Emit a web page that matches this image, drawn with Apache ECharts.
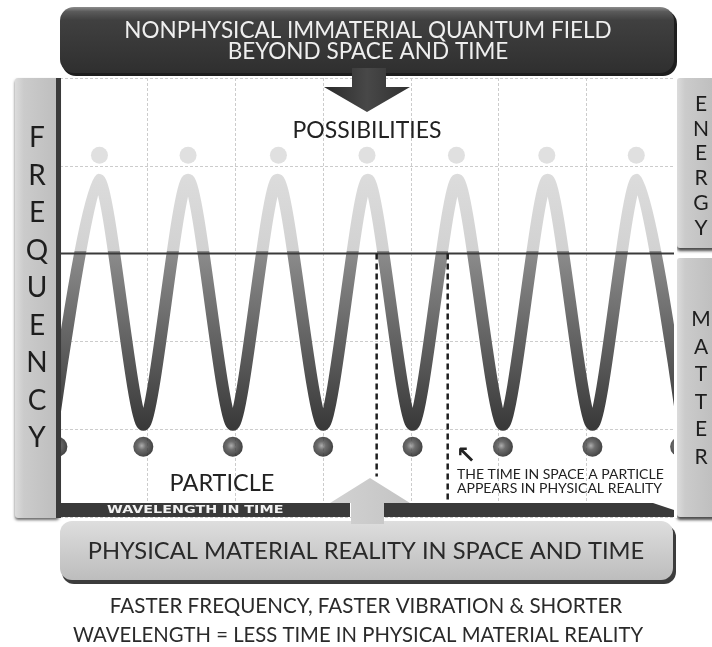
<!DOCTYPE html>
<html>
<head>
<meta charset="utf-8">
<script src="https://cdn.jsdelivr.net/npm/echarts@6/dist/echarts.min.js"></script>
<style>
html,body{margin:0;padding:0;background:#fff;}
#chart{width:712px;height:647px;}
</style>
</head>
<body>
<div id="chart"></div>
<script>
// ---- data (x: wavelength-in-time units, y: frequency units) ----
const waveX = [-0.08, 0.44, 0.95, 1.46, 1.97, 2.48, 3.00, 3.51, 4.02, 4.53, 5.05, 5.56, 6.07, 6.58, 7.10];
const waveY = [1.05, 3.84, 1.05, 3.84, 1.05, 3.84, 1.05, 3.84, 1.05, 3.84, 1.05, 3.84, 1.05, 3.84, 1.05];
const possibilityX = [0.45, 1.46, 2.49, 3.50, 4.52, 5.55, 6.57];
const possibilityY = [4.12, 4.12, 4.12, 4.12, 4.12, 4.12, 4.12];
const particleX = [-0.03, 0.95, 1.97, 3.00, 4.02, 5.05, 6.07, 7.07];
const particleY = [0.80, 0.80, 0.80, 0.80, 0.80, 0.80, 0.80, 0.80];
const markerX = [3.61, 4.42];
const markerTop = [3.0, 3.0];
const markerBottom = [0.46, 0.19];
const thresholdY = [3.0];
const xRange = [0, 7];
const yRange = [0, 5];

const titleLines = ['NONPHYSICAL IMMATERIAL QUANTUM FIELD', 'BEYOND SPACE AND TIME'];
const bottomBanner = 'PHYSICAL MATERIAL REALITY IN SPACE AND TIME';
const captionLines = ['FASTER FREQUENCY, FASTER VIBRATION & SHORTER', 'WAVELENGTH = LESS TIME IN PHYSICAL MATERIAL REALITY'];
const leftLabel = 'FREQUENCY';
const rightTopLabel = 'ENERGY';
const rightBottomLabel = 'MATTER';
const upperLabel = 'POSSIBILITIES';
const lowerLabel = 'PARTICLE';
const axisLabelText = 'WAVELENGTH IN TIME';
const noteLines = ['THE TIME IN SPACE A PARTICLE', 'APPEARS IN PHYSICAL REALITY'];

const FONT = 'Lato, "Open Sans", sans-serif';
const chart = echarts.init(document.getElementById('chart'), null, {renderer: 'canvas'});

const series = [];
series.push({
  type: 'line', name: 'wave', smooth: 0.25, symbol: 'none', z: 3,
  data: waveX.map((x, i) => [x, waveY[i]]),
  lineStyle: {
    width: 12, cap: 'round', join: 'round',
    color: {type: 'linear', x: 0, y: 0, x2: 0, y2: 1, colorStops: [
      {offset: 0, color: '#dcdcdc'}, {offset: 0.299, color: '#d2d2d2'},
      {offset: 0.301, color: '#8c8c8c'}, {offset: 1, color: '#383838'}]}
  }
});
series.push({
  type: 'line', name: 'threshold', symbol: 'none', z: 4,
  data: [[xRange[0], thresholdY[0]], [xRange[1], thresholdY[0]]],
  lineStyle: {color: '#3a3a3a', width: 2}
});
markerX.forEach((x, i) => {
  series.push({
    type: 'line', symbol: 'none', z: 4,
    data: [[x, markerTop[i]], [x, markerBottom[i]]],
    lineStyle: {color: '#1e1e1e', width: 2.5, type: [6, 4]}
  });
});
series.push({
  type: 'scatter', name: 'possibilities', symbolSize: 17, z: 3,
  data: possibilityX.map((x, i) => [x, possibilityY[i]]),
  itemStyle: {color: '#d8d8d8'}
});
series.push({
  type: 'scatter', name: 'particles', symbolSize: 20, z: 5, clip: false,
  data: particleX.map((x, i) => [x, particleY[i]]),
  itemStyle: {color: {type: 'radial', x: 0.42, y: 0.45, r: 0.6, colorStops: [
    {offset: 0, color: '#9a9a9a'}, {offset: 0.35, color: '#4a4a4a'}, {offset: 1, color: '#101010'}]}}
});

function txt(x, y, text, size, fill, extra) {
  return Object.assign({type: 'text', x: x, y: y, z: 60,
    style: Object.assign({text: text, fontSize: size, fontFamily: FONT, fill: fill,
      align: 'center', verticalAlign: 'middle'}, extra && extra.style || {})}, extra && extra.el || {});
}
const grayPanel = {type: 'linear', x: 0, y: 0, x2: 1, y2: 0, colorStops: [
  {offset: 0, color: '#dcdcdc'}, {offset: 0.2, color: '#cbcbcb'}, {offset: 1, color: '#bdbdbd'}]};

const graphic = [
  // top banner
  {type: 'rect', z: 40, shape: {x: 62, y: 10, width: 615, height: 66, r: 14}, style: {fill: '#1e1e1e'}},
  {type: 'rect', z: 41, shape: {x: 60, y: 7, width: 614, height: 66, r: 14}, style: {fill: {type: 'linear', x: 0, y: 0, x2: 0, y2: 1, colorStops: [
    {offset: 0, color: '#8c8c8c'}, {offset: 0.07, color: '#5a5a5a'}, {offset: 0.2, color: '#404040'}, {offset: 1, color: '#2f2f2f'}]}}},
  {type: 'polygon', z: 42, shape: {points: [[352, 68], [386, 68], [386, 87], [410, 87], [367, 112], [324, 87], [352, 87]]},
    style: {fill: {type: 'linear', x: 0, y: 0, x2: 1, y2: 0, colorStops: [{offset: 0, color: '#2a2a2a'}, {offset: 0.5, color: '#484848'}, {offset: 1, color: '#303030'}]}}},
  txt(368, 31, titleLines[0], 22.5, '#efefef'),
  txt(368, 52, titleLines[1], 22.5, '#efefef'),
  // left panel
  {type: 'rect', z: 40, shape: {x: 15, y: 78, width: 44, height: 440, r: 3}, style: {fill: grayPanel, shadowBlur: 3, shadowOffsetY: 2, shadowColor: 'rgba(0,0,0,0.6)'}},
  {type: 'rect', z: 41, shape: {x: 56, y: 78, width: 5, height: 440}, style: {fill: '#3a3a3a'}},
  txt(37, 288, leftLabel.split('').join('\n'), 28, '#1e1e1e', {style: {lineHeight: 37.5}}),
  // right panels
  {type: 'rect', z: 40, shape: {x: 677, y: 78, width: 40, height: 170, r: 3}, style: {fill: grayPanel, shadowBlur: 3, shadowOffsetY: 3, shadowColor: 'rgba(0,0,0,0.7)'}},
  {type: 'rect', z: 40, shape: {x: 677, y: 258, width: 40, height: 259, r: 3}, style: {fill: grayPanel, shadowBlur: 3, shadowOffsetY: 3, shadowColor: 'rgba(0,0,0,0.7)'}},
  {type: 'rect', z: 41, shape: {x: 674, y: 78, width: 3, height: 440}, style: {fill: '#ffffff'}},
  txt(701, 166, rightTopLabel.split('').join('\n'), 21, '#1e1e1e', {style: {lineHeight: 24.8}}),
  txt(701, 388, rightBottomLabel.split('').join('\n'), 21, '#1e1e1e', {style: {lineHeight: 27.5}}),
  // wavelength bar
  {type: 'rect', z: 40, shape: {x: 58, y: 503, width: 292, height: 14}, style: {fill: '#3a3a3a'}},
  {type: 'polygon', z: 40, shape: {points: [[384, 503], [653, 503], [677, 511], [677, 517], [384, 517]]}, style: {fill: '#3a3a3a'}},
  txt(107, 510.5, axisLabelText, 11, '#f2f2f2', {style: {align: 'left', fontWeight: 'bold', fontFamily: '"DejaVu Sans", sans-serif'}, el: {scaleX: 1.3}}),
  // bottom banner
  {type: 'rect', z: 40, shape: {x: 62, y: 525, width: 614, height: 59, r: 12}, style: {fill: '#3c3c3c'}},
  {type: 'rect', z: 41, shape: {x: 60, y: 521, width: 613, height: 59, r: 12}, style: {fill: {type: 'linear', x: 0, y: 0, x2: 0, y2: 1, colorStops: [
    {offset: 0, color: '#dedede'}, {offset: 0.5, color: '#cdcdcd'}, {offset: 1, color: '#bdbdbd'}]}}},
  {type: 'polygon', z: 42, shape: {points: [[351, 524], [351, 503], [330, 503], [370, 478], [410, 503], [384, 503], [384, 524]]},
    style: {fill: {type: 'linear', x: 0, y: 0, x2: 1, y2: 0, colorStops: [{offset: 0, color: '#d2d2d2'}, {offset: 1, color: '#c4c4c4'}]}}},
  txt(366, 551, bottomBanner, 23.7, '#2a2a2a'),
  // caption
  txt(366, 606, captionLines[0], 20.6, '#2a2a2a'),
  txt(358, 635, captionLines[1], 20.3, '#2a2a2a'),
  // in-plot labels
  txt(367, 131, upperLabel, 23, '#222'),
  txt(222, 483, lowerLabel, 23.5, '#222'),
  txt(456, 457, '\u2196', 24, '#222', {style: {align: 'left', fontWeight: 'bold', fontFamily: '"DejaVu Sans", sans-serif'}}),
  txt(457, 474, noteLines[0], 14, '#222', {style: {align: 'left'}}),
  txt(457, 488, noteLines[1], 14, '#222', {style: {align: 'left'}})
];

chart.setOption({
  animation: false,
  backgroundColor: '#ffffff',
  grid: {left: 60, right: 38, top: 78, bottom: 130, containLabel: false},
  xAxis: {type: 'value', min: xRange[0], max: xRange[1], interval: 1,
    axisLine: {show: false}, axisTick: {show: false}, axisLabel: {show: false},
    splitLine: {show: true, lineStyle: {color: '#cccccc', width: 1, type: [3, 2]}}},
  yAxis: {type: 'value', min: yRange[0], max: yRange[1], interval: 1,
    axisLine: {show: false}, axisTick: {show: false}, axisLabel: {show: false},
    splitLine: {show: true, lineStyle: {color: '#cccccc', width: 1, type: [3, 2]}}},
  series: series,
  graphic: graphic
});
</script>
</body>
</html>
